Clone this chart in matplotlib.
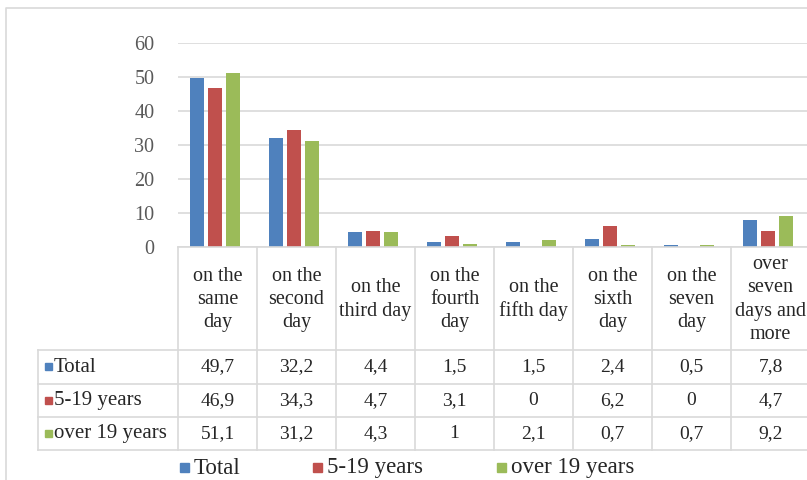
import matplotlib.pyplot as plt
from matplotlib.patches import Rectangle
import numpy as np

categories = ["on the\nsame\nday", "on the\nsecond\nday", "on the\nthird day",
              "on the\nfourth\nday", "on the\nfifth day", "on the\nsixth\nday",
              "on the\nseven\nday", "over\nseven\ndays and\nmore"]
series = ["Total", "5-19 years", "over 19 years"]
total = [49.7, 32.2, 4.4, 1.5, 1.5, 2.4, 0.5, 7.8]
young = [46.9, 34.3, 4.7, 3.1, 0, 6.2, 0, 4.7]
older = [51.1, 31.2, 4.3, 1, 2.1, 0.7, 0.7, 9.2]
values = [total, young, older]
colors = ["#4F81BD", "#C0504D", "#9BBB59"]
yticks = [0, 10, 20, 30, 40, 50, 60]

W, H = 807, 480
plt.rcParams['font.family'] = ['Liberation Serif', 'DejaVu Serif']
fig = plt.figure(figsize=(W / 100, H / 100), dpi=100)

# pixel layout
left, col_w = 178, 79
top0, top60 = 247, 43
hdr_bot = 350
rows_y = [350, 384, 417, 450]
lab_left = 38
grid_c = "#D9D9D9"

# bar axes
ax = fig.add_axes([left / W, (H - top0) / H, 8 * col_w / W, (top0 - top60) / H])
x = np.arange(len(categories))
bw, step = 0.175, 0.23
for i, (vals, c) in enumerate(zip(values, colors)):
    ax.bar(x + (i - 1) * step - 0.03, vals, width=bw, color=c, zorder=3)
ax.set_xlim(-0.5, len(categories) - 0.5)
ax.set_ylim(0, 60)
ax.set_yticks(yticks)
ax.yaxis.grid(True, color=grid_c, lw=1.2)
ax.set_axisbelow(True)
for s in ax.spines.values():
    s.set_visible(False)
ax.set_xticks([])
ax.tick_params(axis='y', length=0, pad=17, labelsize=14.5, labelcolor="#595959")

# overlay in pixel coordinates for the data table, legend and frame
ov = fig.add_axes([0, 0, 1, 1])
ov.set_xlim(0, W)
ov.set_ylim(H, 0)
ov.axis('off')

# outer chart frame
ov.plot([6, 6, W], [H, 8, 8], color=grid_c, lw=1.2)

# table lines
ov.plot([left, W], [top0, top0], color=grid_c, lw=1.2)
for k in range(len(categories) + 1):
    xx = left + k * col_w
    ov.plot([xx, xx], [top0, rows_y[-1]], color=grid_c, lw=1.2)
for yy in rows_y:
    ov.plot([lab_left, W], [yy, yy], color=grid_c, lw=1.2)
ov.plot([lab_left, lab_left], [rows_y[0], rows_y[-1]], color=grid_c, lw=1.2)

txt_c = "#262626"
for k, cat in enumerate(categories):
    cx = left + (k + 0.5) * col_w
    ov.text(cx, (top0 + hdr_bot) / 2 + 1, cat, ha='center', va='center',
            fontsize=14.5, color=txt_c, linespacing=1.3)

for r, (name, vals, c) in enumerate(zip(series, values, colors)):
    cy = (rows_y[r] + rows_y[r + 1]) / 2
    ov.add_patch(Rectangle((45, cy - 4), 7, 7, color=c))
    ov.text(54, cy, name, ha='left', va='center', fontsize=15, color=txt_c)
    for k, v in enumerate(vals):
        cx = left + (k + 0.5) * col_w
        ov.text(cx, cy, f"{v:g}".replace(".", ","), ha='center', va='center',
                fontsize=14, color=txt_c)

# legend
leg_y = 468
leg_x = [180, 313, 497]
for lx, name, c in zip(leg_x, series, colors):
    ov.add_patch(Rectangle((lx, leg_y - 5), 9, 9, color=c))
    ov.text(lx + 14, leg_y, name, ha='left', va='center', fontsize=16.5, color=txt_c)

fig.savefig("out.png", dpi=100)
